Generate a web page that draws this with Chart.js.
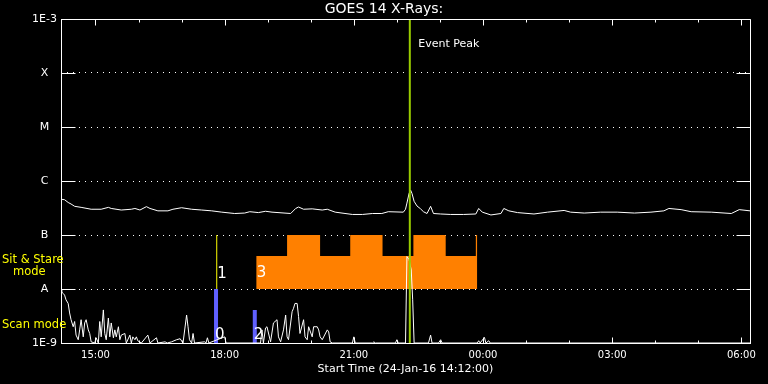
<!DOCTYPE html>
<html>
<head>
<meta charset="utf-8">
<script src="https://cdn.jsdelivr.net/npm/chart.js@4.4.0/dist/chart.umd.min.js"></script>
<style>
  html, body { margin: 0; padding: 0; background: #000; }
  canvas { display: block; }
</style>
</head>
<body>
<canvas id="goes" width="768" height="384"></canvas>
<script>
// long channel
var mainTimes = ['14:12','14:17','14:22','14:26','14:31','14:40','14:54','15:08','15:18','15:22','15:36','15:50','15:55','16:02','16:11','16:16','16:27','16:41','16:48','17:00','17:14','17:28','17:42','17:56','18:14','18:28','18:35','18:47','18:57','19:06','19:32','19:39','19:43','19:50','20:02','20:16','20:23','20:34','20:58','21:12','21:26','21:39','21:48','22:09','22:12','22:14','22:17','22:19','22:21','22:24','22:28','22:33','22:37','22:42','22:47','22:51','23:01','23:15','23:33','23:50','23:54','23:59','00:11','00:25','00:29','00:36','00:48','01:11','01:30','01:53','02:02','02:21','02:44','03:07','03:31','03:54','04:12','04:19','04:36','04:50','05:18','05:46','05:57','06:12'];
var mainFlux = [4.6e-7,4.5e-7,4.0e-7,3.75e-7,3.4e-7,3.25e-7,3.0e-7,3.0e-7,3.25e-7,3.1e-7,2.9e-7,3.0e-7,3.1e-7,2.9e-7,3.35e-7,3.1e-7,2.8e-7,2.8e-7,3.0e-7,3.2e-7,3.0e-7,2.9e-7,2.8e-7,2.65e-7,2.5e-7,2.55e-7,2.7e-7,2.6e-7,2.75e-7,2.65e-7,2.5e-7,3.1e-7,3.3e-7,3.0e-7,3.05e-7,2.9e-7,3.0e-7,2.65e-7,2.4e-7,2.4e-7,2.5e-7,2.5e-7,2.7e-7,2.65e-7,3.0e-7,3.9e-7,5.9e-7,6.8e-7,5.9e-7,4.2e-7,3.45e-7,3.05e-7,2.7e-7,2.5e-7,3.4e-7,2.5e-7,2.45e-7,2.4e-7,2.4e-7,2.45e-7,3.1e-7,2.65e-7,2.35e-7,2.5e-7,3.1e-7,2.8e-7,2.6e-7,2.45e-7,2.65e-7,2.85e-7,2.65e-7,2.55e-7,2.65e-7,2.65e-7,2.55e-7,2.65e-7,2.8e-7,3.1e-7,2.95e-7,2.7e-7,2.65e-7,2.5e-7,2.95e-7,2.8e-7];

// short channel, noisy near the floor
var lowTimes = ['14:12','14:13','14:15','14:17','14:19','14:22','14:24','14:26','14:29','14:31','14:33','14:36','14:38','14:40','14:43','14:45','14:47','14:50','14:52','14:54','14:59','15:01','15:04','15:06','15:08','15:11','15:13','15:15','15:18','15:20','15:22','15:25','15:27','15:29','15:32','15:34','15:36','15:41','15:43','15:48','15:50','15:52','15:55','15:57','15:59','16:04','16:13','16:16','16:25','16:27','16:37','16:40','16:46','16:53','16:58','17:02','17:07','17:09','17:11','17:14','17:16','17:18','17:32','17:34','17:36','17:38','18:00','18:02','18:50','18:52','18:54','18:57','18:59','19:04','19:08','19:13','19:15','19:18','19:22','19:25','19:27','19:29','19:34','19:36','19:38','19:41','19:43','19:45','19:50','19:52','19:55','19:57','20:02','20:04','20:06','20:09','20:11','20:13','20:16','20:23','20:25','20:27','20:30','20:58','21:00','21:02','21:26','21:28','21:30','21:58','22:00','22:02','22:12','22:14','22:17','22:20','22:22','22:24','22:44','22:47','22:49','22:58','23:01','23:03','23:52','23:54','23:56','00:02','00:04','00:08','00:10','06:12'];
var lowFlux = [9.6e-9,8.8e-9,8.3e-9,7.7e-9,6.3e-9,5.4e-9,3.6e-9,2.7e-9,2.0e-9,2.5e-9,1.4e-9,1.15e-9,1.75e-9,2.7e-9,1.3e-9,2.35e-9,2.7e-9,1.75e-9,1.5e-9,1.05e-9,1e-9,1.25e-9,1e-9,2.5e-9,1.3e-9,4.1e-9,1.5e-9,1.15e-9,2.9e-9,1.3e-9,2.35e-9,1.25e-9,1.75e-9,1.3e-9,2.0e-9,1.15e-9,1.4e-9,1.5e-9,1e-9,1.4e-9,1e-9,1.3e-9,1.15e-9,1.3e-9,1.1e-9,1e-9,1.4e-9,1e-9,1.25e-9,1e-9,1.05e-9,1e-9,1.05e-9,1.15e-9,1.2e-9,1e-9,3.3e-9,2.0e-9,1.15e-9,1e-9,1.5e-9,1e-9,1.05e-9,1e-9,1.25e-9,1e-9,1.3e-9,1e-9,1e-9,1.75e-9,1e-9,1.9e-9,2.0e-9,1.05e-9,2.35e-9,2.7e-9,1.3e-9,1.05e-9,1.75e-9,3.3e-9,1.3e-9,1.15e-9,3.8e-9,4.4e-9,5.4e-9,5.4e-9,3.1e-9,1.5e-9,2.7e-9,1.3e-9,1.15e-9,2.0e-9,1.3e-9,2.0e-9,2.0e-9,2.0e-9,1.75e-9,1.3e-9,1.15e-9,1.75e-9,1.6e-9,1.05e-9,1e-9,1e-9,1.3e-9,1e-9,1e-9,1.05e-9,1e-9,1e-9,1.15e-9,1e-9,1e-9,4.0e-8,3.5e-8,2.25e-8,6.3e-9,1e-9,1e-9,1.4e-9,1e-9,1e-9,1.15e-9,1e-9,1e-9,1.1e-9,1e-9,1.27e-9,1e-9,1.1e-9,1e-9,1e-9];

var yTickValues = [1e-9, 1e-8, 1e-7, 1e-6, 1e-5, 1e-4, 1e-3];
var yTickLabels = ['1E-9', 'A', 'B', 'C', 'M', 'X', '1E-3'];

// scan mode bars (blue)
var scanTimes = ['17:48', '18:42'];
var scanTops = [1e-8, 4.1e-9];
var scanLabels = ['0', '2'];

// sit & stare marker (yellow) and period (orange)
var stareMarkTime = '17:49';
var stareMarkLabel = '1';
var stareTimes = ['18:44','19:27','20:13','20:55','21:40','22:23','23:08','23:50','23:52'];
var stareLevels = [4.1e-8,1e-7,4.1e-8,1e-7,4.1e-8,1e-7,4.1e-8,1e-7,1e-7];
var stareLabel = '3';

var eventTime = '22:18';
var startTime = '14:12', endTime = '06:12';

function toHours(s) {
  var p = s.split(':');
  var h = parseInt(p[0]) + parseInt(p[1]) / 60;
  if (h < 12) h += 24;   // next day
  return h;
}
function pts(times, vals) {
  return times.map(function (t, i) { return {x: toHours(t), y: vals[i]}; });
}

var scanData = [];
scanTimes.forEach(function (t, i) {
  scanData.push({x: toHours(t), y: 1e-9}, {x: toHours(t), y: scanTops[i]}, {x: toHours(t), y: null});
});

// box, inner ticks and the text marks
const frame = {
  id: 'frame',
  afterDraw(chart) {
    const {ctx, chartArea: a, scales: {x, y}} = chart;
    const L = Math.round(a.left) + 0.5, R = Math.round(a.right) + 0.5;
    const T = Math.round(a.top) + 0.5, B = Math.round(a.bottom) + 0.5;
    ctx.save();
    ctx.strokeStyle = '#fff';
    ctx.lineWidth = 1;
    ctx.beginPath();
    ctx.rect(L, T, R - L, B - T);
    for (let h = Math.ceil(x.min); h <= x.max; h++) {
      const px = Math.round(x.getPixelForValue(h)) + 0.5;
      const len = h % 3 === 0 ? 6 : 3;
      ctx.moveTo(px, B); ctx.lineTo(px, B - len);
      ctx.moveTo(px, T); ctx.lineTo(px, T + len);
    }
    y.ticks.forEach(function (t) {
      const py = Math.round(y.getPixelForValue(t.value)) + 0.5;
      ctx.moveTo(L, py); ctx.lineTo(L + 14, py);
      ctx.moveTo(R, py); ctx.lineTo(R - 14, py);
    });
    ctx.stroke();

    ctx.fillStyle = '#fff';
    ctx.textAlign = 'left';
    ctx.textBaseline = 'alphabetic';
    ctx.font = '15px "DejaVu Sans"';
    scanTimes.forEach(function (t, i) {
      ctx.fillText(scanLabels[i], x.getPixelForValue(toHours(t)) - 1, B - 5);
    });
    ctx.fillText(stareMarkLabel, x.getPixelForValue(toHours(stareMarkTime)) + 0.5, 278);
    ctx.fillText(stareLabel, x.getPixelForValue(toHours(stareTimes[0])) + 0.5, 277);
    ctx.font = '11px "DejaVu Sans"';
    ctx.fillText('Event Peak', x.getPixelForValue(toHours(eventTime)) + 8.5, a.top + 28);

    ctx.fillStyle = '#ffff00';
    ctx.font = '11.5px "DejaVu Sans"';
    ctx.fillText('Sit & Stare', 2, 263);
    ctx.fillText('mode', 13, 275);
    ctx.fillText('Scan mode', 2, 328);
    ctx.restore();
  }
};

Chart.defaults.font.family = '"DejaVu Sans"';
Chart.defaults.color = '#fff';

var line = {pointRadius: 0, borderWidth: 1, tension: 0, fill: false};

new Chart(document.getElementById('goes'), {
  type: 'line',
  data: {
    datasets: [
      Object.assign({}, line, {label: 'Event Peak', order: 0, borderColor: '#99cc00', borderWidth: 2,
        data: [{x: toHours(eventTime), y: 1e-9}, {x: toHours(eventTime), y: 1e-3}]}),
      Object.assign({}, line, {label: '0.5-4.0 A', order: 1, borderColor: '#fff', data: pts(lowTimes, lowFlux)}),
      Object.assign({}, line, {label: '1.0-8.0 A', order: 2, borderColor: '#fff', data: pts(mainTimes, mainFlux)}),
      Object.assign({}, line, {label: 'Sit & Stare marker', order: 3, borderColor: '#ffff00',
        data: [{x: toHours(stareMarkTime), y: 1e-8}, {x: toHours(stareMarkTime), y: 1e-7}]}),
      Object.assign({}, line, {label: 'Scan mode', order: 4, borderColor: '#6060ff', borderWidth: 4,
        spanGaps: false, data: scanData}),
      Object.assign({}, line, {label: 'Sit & Stare', order: 5, borderWidth: 0, borderColor: '#ff8000',
        backgroundColor: '#ff8000', stepped: true, fill: {value: 1e-8}, data: pts(stareTimes, stareLevels)})
    ]
  },
  options: {
    responsive: false,
    animation: false,
    events: [],
    layout: {padding: 0},
    plugins: {
      legend: {display: false},
      tooltip: {enabled: false},
      title: {
        display: true,
        text: 'GOES 14 X-Rays:',
        color: '#fff',
        font: {size: 14, weight: 'normal', lineHeight: 1},
        padding: {top: 2, bottom: 3}
      }
    },
    scales: {
      x: {
        type: 'linear',
        min: toHours(startTime),
        max: toHours(endTime),
        grid: {display: false, drawTicks: false},
        border: {display: true, color: '#fff'},
        ticks: {
          stepSize: 3,
          includeBounds: false,
          autoSkip: false,
          maxRotation: 0,
          padding: 6,
          font: {size: 10},
          callback: function (v) {
            var h = v % 24;
            return (h < 10 ? '0' : '') + h + ':00';
          }
        },
        title: {
          display: true,
          text: 'Start Time (24-Jan-16 14:12:00)',
          font: {size: 11},
          padding: {top: 0, bottom: 8}
        },
        afterFit: function (s) { s.height = 41; }
      },
      y: {
        type: 'logarithmic',
        min: 1e-9,
        max: 1e-3,
        afterBuildTicks: function (s) {
          s.ticks = yTickValues.map(function (v) { return {value: v}; });
        },
        grid: {color: '#fff', lineWidth: 1, drawTicks: false},
        border: {display: true, color: '#fff', dash: [1, 5], dashOffset: 1},
        ticks: {
          autoSkip: false,
          crossAlign: 'center',
          padding: 4,
          font: {size: 11},
          callback: function (v, i) { return yTickLabels[i]; }
        },
        afterFit: function (s) { s.width = 61; }
      },
      yr: {
        type: 'linear',
        position: 'right',
        grid: {display: false, drawTicks: false},
        border: {display: false},
        ticks: {display: false},
        afterFit: function (s) { s.width = 18; }
      }
    }
  },
  plugins: [frame]
});
</script>
</body>
</html>
